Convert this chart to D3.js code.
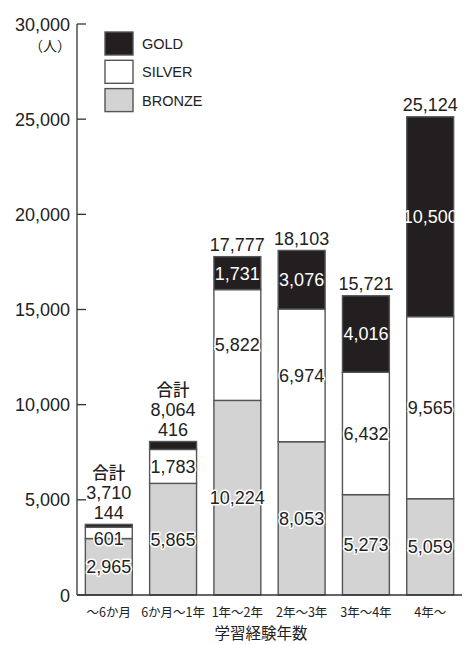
<!DOCTYPE html>
<html><head><meta charset="utf-8">
<script src="https://cdn.jsdelivr.net/npm/d3@7"></script>
<style>
html,body{margin:0;padding:0;background:#fff;}
svg{display:block;}
</style></head>
<body>
<script>
const categories = ["〜6か月","6か月〜1年","1年〜2年","2年〜3年","3年〜4年","4年〜"];
const bronze = [2965, 5865, 10224, 8053, 5273, 5059];
const silver = [601, 1783, 5822, 6974, 6432, 9565];
const gold   = [144, 416, 1731, 3076, 4016, 10500];
const totals = [3710, 8064, 17777, 18103, 15721, 25124];
const seriesNames = ["BRONZE","SILVER","GOLD"];
const legendOrder = ["GOLD","SILVER","BRONZE"];
const yTicks = [0,5000,10000,15000,20000,25000,30000];
const unitLabel = "（人）";
const totalWord = "合計";
const xTitle = "学習経験年数";

const W = 473, H = 645;
const fills = {BRONZE:"#d3d3d3", SILVER:"#ffffff", GOLD:"#231f20"};
const font = "'Liberation Sans', Arial, sans-serif";
const jfont = "'Noto Sans CJK JP', sans-serif";

const svg = d3.select("body").append("svg").attr("width", W).attr("height", H);

const y = d3.scaleLinear().domain([0, 30000]).range([595, 24]);
const x = d3.scaleBand().domain(categories).range([77, 462]).paddingInner(0.27).paddingOuter(0.13);

const rows = categories.map((c,i)=>({cat:c, BRONZE:bronze[i], SILVER:silver[i], GOLD:gold[i], total:totals[i]}));
const stack = d3.stack().keys(seriesNames)(rows);

// bars
stack.forEach(layer=>{
  svg.append("g").selectAll("rect").data(layer).join("rect")
    .attr("x", d=>x(d.data.cat))
    .attr("y", d=>y(d[1]))
    .attr("width", x.bandwidth())
    .attr("height", d=>y(d[0])-y(d[1]))
    .attr("fill", fills[layer.key])
    .attr("stroke", "#555")
    .attr("stroke-width", 1.4);
});

// axes
const axisG = svg.append("g");
axisG.append("line").attr("x1",77).attr("x2",77).attr("y1",y(30000)).attr("y2",y(0)).attr("stroke","#333").attr("stroke-width",1.3);
axisG.append("line").attr("x1",77).attr("x2",462).attr("y1",y(0)).attr("y2",y(0)).attr("stroke","#333").attr("stroke-width",1.3);
axisG.selectAll("line.tick").data(yTicks).join("line").attr("class","tick")
  .attr("x1",77).attr("x2",86).attr("y1",d=>y(d)).attr("y2",d=>y(d)).attr("stroke","#333").attr("stroke-width",1.3);
axisG.selectAll("text.yl").data(yTicks).join("text").attr("class","yl")
  .attr("x",70).attr("y",d=>y(d)+6.5).attr("text-anchor","end")
  .attr("font-family",font).attr("font-size",18).attr("fill","#222")
  .text(d=>d3.format(",")(d));
svg.append("text").attr("x",71).attr("y",51).attr("text-anchor","end")
  .attr("font-family",jfont).attr("font-size",14).attr("fill","#222").text(unitLabel);

// x labels
svg.selectAll("text.xl").data(categories).join("text").attr("class","xl")
  .attr("x",d=>x(d)+x.bandwidth()/2).attr("y",617).attr("text-anchor","middle")
  .attr("font-family",jfont).attr("font-size",12.5).attr("fill","#222").text(d=>d);
svg.append("text").attr("x",261).attr("y",639).attr("text-anchor","middle")
  .attr("font-family",jfont).attr("font-size",15.5).attr("fill","#222").text(xTitle);

// segment labels
stack.forEach(layer=>{
  layer.forEach(d=>{
    const y0 = y(d[0]), y1 = y(d[1]);
    const h = y0 - y1;
    const v = d.data[layer.key];
    const cx = x(d.data.cat)+x.bandwidth()/2;
    if (layer.key === "GOLD") {
      if (h < 15) return;
      svg.append("text").attr("x",cx).attr("y",(y0+y1)/2+6.5).attr("text-anchor","middle")
        .attr("font-family",font).attr("font-size",18)
        .attr("fill","#ffffff")
        .text(d3.format(",")(v));
    } else {
      const cy = h < 15 ? y0 : (y0+y1)/2;
      svg.append("text").attr("x",cx).attr("y",cy+6.5).attr("text-anchor","middle")
        .attr("font-family",font).attr("font-size",18)
        .attr("fill","#222").attr("stroke","#fff").attr("stroke-width",3)
        .attr("paint-order","stroke").attr("stroke-linejoin","round")
        .text(d3.format(",")(v));
    }
  });
});

// totals
rows.forEach((r,i)=>{
  const cx = x(r.cat)+x.bandwidth()/2;
  const top = y(r.total);
  const gh = y(r.total - r.GOLD) - top;
  let base = top - 5.5;
  if (gh < 15) {
    svg.append("text").attr("x",cx).attr("y",base).attr("text-anchor","middle")
      .attr("font-family",font).attr("font-size",18).attr("fill","#222").text(d3.format(",")(r.GOLD));
    base -= 20;
    svg.append("text").attr("x",cx).attr("y",base).attr("text-anchor","middle")
      .attr("font-family",font).attr("font-size",18).attr("fill","#222").text(d3.format(",")(r.total));
    base -= 20;
    svg.append("text").attr("x",cx).attr("y",base).attr("text-anchor","middle")
      .attr("font-family",jfont).attr("font-size",16.5).attr("font-weight",500).attr("fill","#222").text(totalWord);
  } else {
    svg.append("text").attr("x",cx).attr("y",base).attr("text-anchor","middle")
      .attr("font-family",font).attr("font-size",18).attr("fill","#222").text(d3.format(",")(r.total));
  }
});

// legend
const lg = svg.append("g");
legendOrder.forEach((k,i)=>{
  lg.append("rect").attr("x",105).attr("y",32+i*28.3).attr("width",28).attr("height",23)
    .attr("fill",fills[k]).attr("stroke","#555").attr("stroke-width",1.4);
  lg.append("text").attr("x",142).attr("y",32+i*28.3+17).attr("font-family",font)
    .attr("font-size",14.5).attr("fill","#222").text(k);
});
</script>
</body></html>
